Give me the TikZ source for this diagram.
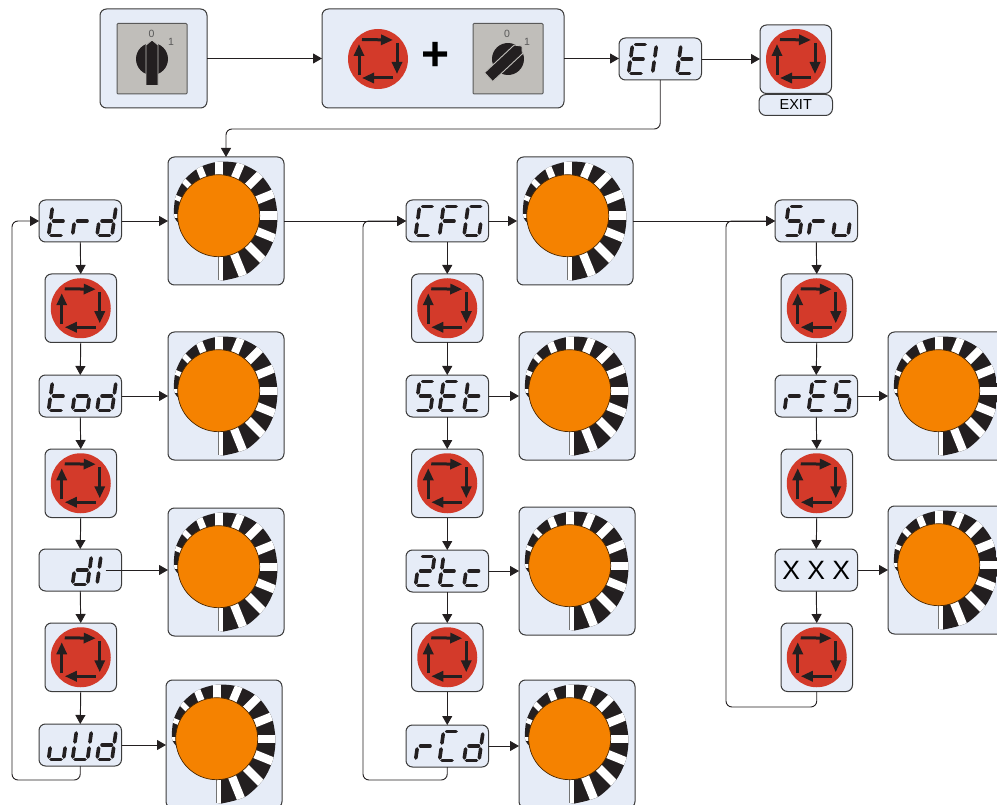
\documentclass[tikz,border=0pt]{standalone}
\usepackage{fontspec}
\setmainfont{Liberation Sans}
\usetikzlibrary{arrows.meta,calc}
\definecolor{boxfill}{HTML}{E6ECF7}
\definecolor{boxline}{HTML}{3C3C3C}
\definecolor{inkblack}{HTML}{231F20}
\definecolor{btnred}{HTML}{D33A2A}
\definecolor{dialorange}{HTML}{F58200}
\definecolor{panelgray}{HTML}{C0BEBA}
\tikzset{
  panel/.style={draw=boxline,fill=boxfill,line width=1pt,rounded corners=6.5pt,inner sep=0pt,outer sep=0pt,anchor=north west},
  dispbox/.style={panel,minimum width=82.5pt,minimum height=42pt,text opacity=0,font=\fontsize{20}{22}\selectfont},
  btnbox/.style={panel,minimum width=71.5pt,minimum height=68.5pt},
  dialbox/.style={panel,minimum width=116pt,minimum height=128pt},
  conn/.style={draw=inkblack,line width=0.95pt,-{Triangle[length=9pt,width=10pt]},rounded corners=6pt},
  seg/.style={draw=inkblack,line width=3.6pt,line cap=round},
  turnarrow/.style={draw=inkblack,line width=3pt,-{Triangle[length=12pt,width=10pt]}},
  swlabel/.style={text=black!65,font=\fontsize{10.5}{12}\selectfont,inner sep=0pt}
}
% seven-segment elements
\newcommand\SegA{\draw[seg] (3,29) -- (12.5,29);}
\newcommand\SegB{\draw[seg] (15,26.5) -- (15,17.5);}
\newcommand\SegC{\draw[seg] (15,11.5) -- (15,2.5);}
\newcommand\SegD{\draw[seg] (2.5,0) -- (12.5,0);}
\newcommand\SegE{\draw[seg] (0,11.5) -- (0,2.5);}
\newcommand\SegF{\draw[seg] (0,26.5) -- (0,17.5);}
\newcommand\SegG{\draw[seg] (3,14.5) -- (12.5,14.5);}
\newcommand\LetT{\SegF\SegE\SegG\SegD}
\newcommand\LetR{\SegE\SegG}
\newcommand\LetD{\SegB\SegC\SegD\SegE\SegG}
\newcommand\LetO{\SegC\SegD\SegE\SegG}
\newcommand\LetI{\SegE\SegF}
\newcommand\LetU{\SegC\SegD\SegE}
\newcommand\LetBigU{\SegB\SegC\SegD\SegE\SegF}
\newcommand\LetC{\SegA\SegD\SegE\SegF}
\newcommand\LetF{\SegA\SegE\SegF\SegG}
\newcommand\LetG{\SegA\SegC\SegD\SegE\SegF}
\newcommand\LetS{\SegA\SegC\SegD\SegF\SegG}
\newcommand\LetE{\SegA\SegD\SegE\SegF\SegG}
\newcommand\LetTwo{\SegA\SegB\SegD\SegE\SegG}
\newcommand\LetSmallC{\SegD\SegE\SegG}
\newcommand\LetBlank{}
\newcommand\seggroup[3]{\begin{scope}[shift={($(#1.north west)+(#2,35.5)$)},x=1pt,y=1pt,xslant=0.14]#3\end{scope}}
\newcommand\threeseg[4]{\seggroup{#1}{9.5}{#2}\seggroup{#1}{33.5}{#3}\seggroup{#1}{58}{#4}}
% turn button
\newcommand\turnbutton[1]{\begin{scope}[shift={(#1)},x=1pt,y=1pt]
  \fill[btnred] (0,0) circle (30);
  \draw[turnarrow] (-16,19.5) -- (15,19);
  \draw[turnarrow] (19,16) -- (19,-15);
  \draw[turnarrow] (15,-19) -- (-16,-19);
  \draw[turnarrow] (-19,-16) -- (-19,15);
\end{scope}}
% rotary switch
\newcommand\rotswitch[3]{\begin{scope}[shift={(#1,#2)},x=1pt,y=1pt]
  \fill[rounded corners=1pt,draw=black!65,fill=panelgray,line width=1pt] (-35,-35) rectangle (35,35.5);
  \begin{scope}[rotate=#3]
    \fill[inkblack] (0,0) circle (16);
    \filldraw[fill=inkblack,draw=panelgray,line width=0.9pt] (-6,-26.5) -- (-6,14) -- (0,19) -- (6,14) -- (6,-26.5) -- cycle;
  \end{scope}
\end{scope}}
% encoder dial
\newcommand\dialface[2]{\begin{scope}[shift={(#1+50.7,#2+58.7)},x=1pt,y=1pt]
  \begin{scope}
    \clip (0,0) -- (0,-64) -- plot[smooth] coordinates {(4,-65) (-64:64.7) (-41:62) (-20:60) (0:58.7) (22:59) (45:58.5) (67:56.5) (90:54) (112:52) (135:49.5) (157:47) (180:44.7) (190:41)} -- cycle;
    \fill[inkblack] (-70,-70) rectangle (70,70);
    \foreach \a/\w in {-68/4.2,-45/4.2,-22/4.2,0/4.2,22/4.2,45/4,67/4,90/3.8,112/3.4,135/2.8,157/2.4,180/2} {
      \fill[white,rotate=\a] (0,-\w) rectangle (80,\w);
    }
    \fill[white] (0,0) rectangle (4,-70);
  \end{scope}
  \draw[black!55,line width=0.5pt] (0,-40) -- (0,-64);
  \filldraw[fill=dialorange,draw=black!70!dialorange,line width=0.7pt] (0,0) circle (41);
\end{scope}}
\begin{document}
\begin{tikzpicture}[x=1pt,y=-1pt]
\clip (0,0) rectangle (997,805);
% top row
\node[panel,minimum width=107pt,minimum height=99pt] (swa) at (100,9) {};
\node[panel,minimum width=242pt,minimum height=99pt] (swb) at (322,9) {};
\node[dispbox] (eit) at (619,38) {EIt};
\node[panel,minimum width=71.5pt,minimum height=68.5pt] (exitbtn) at (760,25) {};
\node[panel,minimum width=73.5pt,minimum height=21pt,rounded corners=7pt,font=\fontsize{14.5}{16}\selectfont] (exitlbl) at (759,94.5) {EXIT};
% column 1
\node[dispbox] (trd) at (39,200) {trd};
\node[btnbox] (b1) at (45,274) {};
\node[dispbox] (tod) at (39,375) {tod};
\node[btnbox] (b2) at (45,449) {};
\node[dispbox] (dl) at (39,549) {dl};
\node[btnbox] (b3) at (45,623) {};
\node[dispbox] (vud) at (39,724) {vUd};
\node[dialbox] (d1) at (168,157) {};
\node[dialbox] (d2) at (168,332) {};
\node[dialbox] (d3) at (168,508) {};
\node[dialbox] (d4) at (166,680) {};
% column 2
\node[dispbox] (cfg) at (406,200) {CFG};
\node[btnbox] (b4) at (411.5,274) {};
\node[dispbox] (set) at (406,375) {SEt};
\node[btnbox] (b5) at (411.5,449) {};
\node[dispbox] (twotc) at (406,550) {2tc};
\node[btnbox] (b6) at (411.5,623) {};
\node[dispbox] (rcd) at (406,725) {rCd};
\node[dialbox] (d5) at (517,157) {};
\node[dialbox] (d6) at (519,332) {};
\node[dialbox] (d7) at (519,507) {};
\node[dialbox] (d8) at (519,680) {};
% column 3
\node[dispbox] (sru) at (775,200) {Sru};
\node[btnbox] (b7) at (781,274) {};
\node[dispbox] (res) at (775,375) {rES};
\node[btnbox] (b8) at (781,449) {};
\node[panel,minimum width=82.5pt,minimum height=42pt,font=\fontsize{26.5}{28}\selectfont] (xxx) at (775,549) {X X X};
\node[btnbox] (b9) at (781,623) {};
\node[dialbox] (d9) at (888,332) {};
\node[dialbox] (d10) at (888,506) {};
% faces
\rotswitch{152}{59}{0}
\rotswitch{508}{59}{-47}
\node[swlabel] (sa0) at (151.5,33.5) {0};
\node[swlabel] (sa1) at (171,41.5) {1};
\node[swlabel] (sb0) at (507,33.5) {0};
\node[swlabel] (sb1) at (527,41.5) {1};
\turnbutton{378,59}
\turnbutton{796,59}
\node[inner sep=0pt,font=\fontsize{48}{50}\bfseries\selectfont] (plus) at (436,56) {+};
\foreach \n in {b1,b2,b3,b4,b5,b6,b7,b8,b9} { \turnbutton{\n.center} }
\dialface{168}{157}\dialface{168}{332}\dialface{168}{508}\dialface{166}{680}
\dialface{517}{157}\dialface{519}{332}\dialface{519}{507}\dialface{519}{680}
\dialface{888}{332}\dialface{888}{506}
% displays
\threeseg{eit}{\LetE}{\LetI}{\LetT}
\threeseg{trd}{\LetT}{\LetR}{\LetD}
\threeseg{tod}{\LetT}{\LetO}{\LetD}
\threeseg{dl}{\LetBlank}{\LetD}{\LetI}
\threeseg{vud}{\LetU}{\LetBigU}{\LetD}
\threeseg{cfg}{\LetC}{\LetF}{\LetG}
\threeseg{set}{\LetS}{\LetE}{\LetT}
\threeseg{twotc}{\LetTwo}{\LetT}{\LetSmallC}
\threeseg{rcd}{\LetR}{\LetC}{\LetD}
\threeseg{sru}{\LetS}{\LetR}{\LetU}
\threeseg{res}{\LetR}{\LetE}{\LetS}
% connectors
\draw[conn] (swa.east) -- (swb.west);
\draw[conn] (swb.east) -- (swb.east -| eit.west);
\draw[conn] (eit.east) -- (eit.east -| exitbtn.west);
\coordinate (eitturn) at (440,129);
\draw[conn] (eit.south) |- (eitturn) -| (d1.north);
\draw[conn] (trd.south) -- (b1.north);
\draw[conn] (b1.south) -- (tod.north);
\draw[conn] (tod.south) -- (b2.north);
\draw[conn] (b2.south) -- (dl.north);
\draw[conn] (dl.south) -- (b3.north);
\draw[conn] (b3.south) -- (vud.north);
\coordinate (loopa) at (12,780);
\draw[conn] (vud.south) |- (loopa) |- (trd.west);
\draw[conn] (cfg.south) -- (b4.north);
\draw[conn] (b4.south) -- (set.north);
\draw[conn] (set.south) -- (b5.north);
\draw[conn] (b5.south) -- (twotc.north);
\draw[conn] (twotc.south) -- (b6.north);
\draw[conn] (b6.south) -- (rcd.north);
\coordinate (loopb) at (363,780);
\draw[conn] (rcd.south) |- (loopb) |- (cfg.west);
\draw[conn] (sru.south) -- (b7.north);
\draw[conn] (b7.south) -- (res.north);
\draw[conn] (res.south) -- (b8.north);
\draw[conn] (b8.south) -- (xxx.north);
\draw[conn] (xxx.south) -- (b9.north);
\coordinate (loopc) at (726,707);
\draw[conn] (b9.south) |- (loopc) |- (sru.west);
\draw[conn] (trd.east) -- (trd.east -| d1.west);
\draw[conn] (tod.east) -- (tod.east -| d2.west);
\coordinate (dlout) at ($(dl.east)+(-16,0)$);
\draw[conn] (dlout) -- (dlout -| d3.west);
\draw[conn] (vud.east) -- (vud.east -| d4.west);
\draw[conn] (cfg.east) -- (cfg.east -| d5.west);
\draw[conn] (set.east) -- (set.east -| d6.west);
\draw[conn] (twotc.east) -- (twotc.east -| d7.west);
\draw[conn] (rcd.east) -- (rcd.east -| d8.west);
\draw[conn] (res.east) -- (res.east -| d9.west);
\draw[conn] (xxx.east) -- (xxx.east -| d10.west);
\coordinate (aout) at (d1.east |- trd.east);
\draw[conn] (aout) -- (cfg.west);
\coordinate (bout) at (d5.east |- cfg.east);
\draw[conn] (bout) -- (sru.west);
\end{tikzpicture}
\end{document}
